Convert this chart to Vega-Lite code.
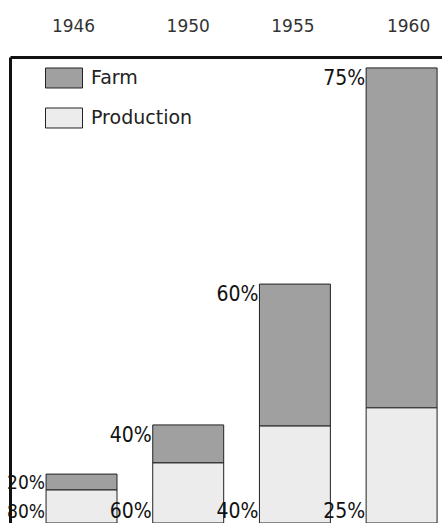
{
  "$schema": "https://vega.github.io/schema/vega-lite/v6.json",
  "width": 432,
  "height": 466,
  "autosize": "none",
  "padding": {"left": 10, "top": 57, "right": 0, "bottom": 0},
  "background": "white",
  "config": {"view": {"stroke": null}},
  "data": {
    "values": [
      {"year": "1946", "type": "Farm", "value": 3.5, "pct": "20%"},
      {"year": "1946", "type": "Production", "value": 7.25, "pct": "80%"},
      {"year": "1950", "type": "Farm", "value": 8.35, "pct": "40%"},
      {"year": "1950", "type": "Production", "value": 13.2, "pct": "60%"},
      {"year": "1955", "type": "Farm", "value": 31.2, "pct": "60%"},
      {"year": "1955", "type": "Production", "value": 21.3, "pct": "40%"},
      {"year": "1960", "type": "Farm", "value": 74.7, "pct": "75%"},
      {"year": "1960", "type": "Production", "value": 25.3, "pct": "25%"}
    ]
  },
  "encoding": {
    "x": {
      "field": "year",
      "type": "nominal",
      "scale": {"paddingInner": 0.335, "paddingOuter": 0.192, "align": 0.88},
      "axis": {
        "orient": "top",
        "title": null,
        "labelAngle": 0,
        "domainWidth": 3,
        "domainColor": "#111",
        "ticks": false,
        "labelPadding": 26,
        "labelBaseline": "alphabetic",
        "labelFont": "DejaVu Sans",
        "labelFontSize": 17,
        "labelColor": "#333",
        "labelOffset": {
          "condition": [
            {"test": "datum.value === '1946'", "value": -8},
            {"test": "datum.value === '1955'", "value": -2},
            {"test": "datum.value === '1960'", "value": 7}
          ],
          "value": 0
        }
      }
    }
  },
  "layer": [
    {
      "mark": {"type": "bar", "stroke": "#222", "strokeWidth": 1},
      "encoding": {
        "y": {
          "field": "value",
          "type": "quantitative",
          "stack": "zero",
          "scale": {"domain": [0, 102.4], "nice": false},
          "axis": {
            "orient": "left",
            "labels": false,
            "ticks": false,
            "grid": false,
            "title": null,
            "domainWidth": 3,
            "domainColor": "#111"
          }
        },
        "fill": {
          "field": "type",
          "type": "nominal",
          "scale": {"domain": ["Farm", "Production"], "range": ["#a0a0a0", "#ececec"]},
          "legend": {
            "orient": "none",
            "legendX": 35,
            "legendY": 2,
            "title": null,
            "padding": 0,
            "symbolType": "M-1,-0.54H1V0.54H-1Z",
            "symbolSize": 1369,
            "symbolStrokeColor": "#222",
            "symbolStrokeWidth": 1,
            "labelFont": "DejaVu Sans",
            "labelFontSize": 19,
            "labelColor": "#222",
            "labelOffset": 8,
            "rowPadding": 9
          }
        },
        "order": {"field": "type", "sort": "descending"}
      }
    },
    {
      "transform": [
        {"joinaggregate": [{"op": "sum", "field": "value", "as": "total"}], "groupby": ["year"]},
        {"filter": "datum.type === 'Farm'"}
      ],
      "mark": {"type": "text", "align": "right", "baseline": "top", "dx": -1, "dy": 0, "font": "DejaVu Sans Condensed", "color": "#111"},
      "encoding": {
        "x": {"field": "year", "type": "nominal", "bandPosition": 0},
        "y": {"field": "total", "type": "quantitative"},
        "text": {"field": "pct"},
        "size": {"condition": {"test": "datum.year === '1946'", "value": 19}, "value": 21}
      }
    },
    {
      "transform": [{"filter": "datum.type === 'Production'"}],
      "mark": {"type": "text", "align": "right", "baseline": "alphabetic", "dx": -1, "dy": -5, "font": "DejaVu Sans Condensed", "color": "#111"},
      "encoding": {
        "x": {"field": "year", "type": "nominal", "bandPosition": 0},
        "y": {"datum": 0},
        "text": {"field": "pct"},
        "size": {"condition": {"test": "datum.year === '1946'", "value": 19}, "value": 21}
      }
    }
  ]
}
